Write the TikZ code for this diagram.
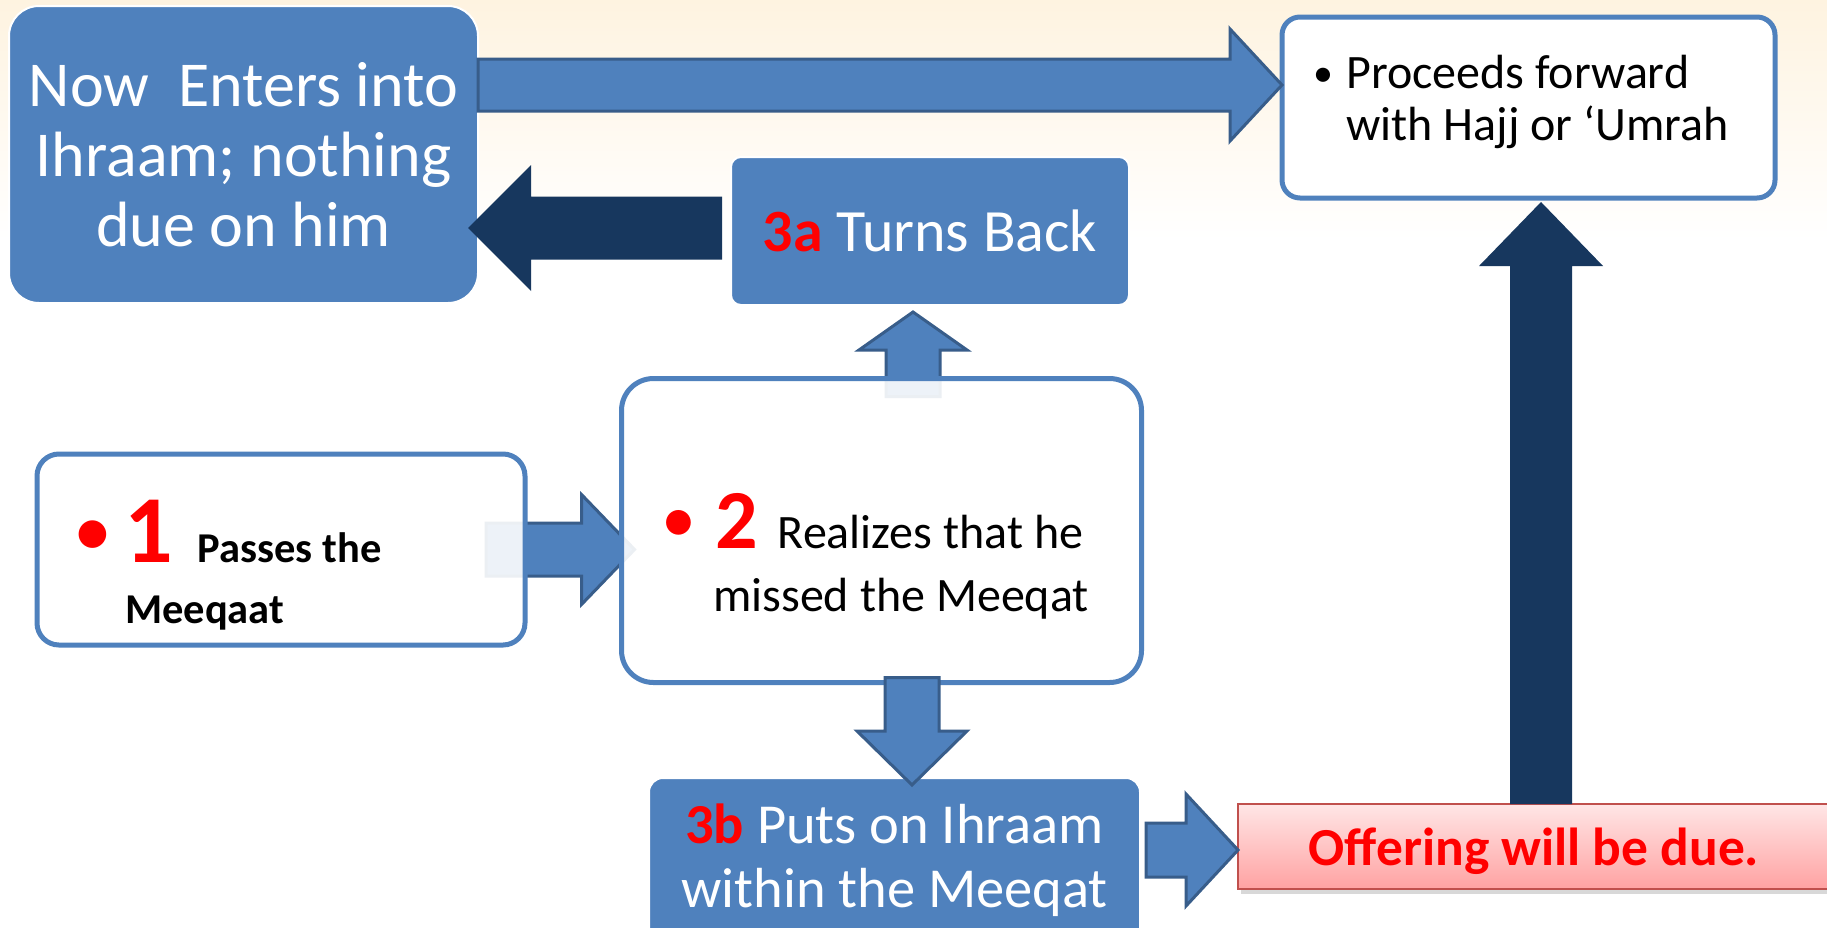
\documentclass[tikz,border=0pt]{standalone}
\usepackage{fontspec}
\setmainfont{Carlito}
\usepackage{xcolor}
\definecolor{boxblue}{RGB}{79,129,189}
\definecolor{edgeblue}{RGB}{56,93,138}
\definecolor{navy}{RGB}{23,55,94}
\definecolor{offedge}{RGB}{192,80,77}
\definecolor{offtop}{RGB}{255,230,230}
\definecolor{offbot}{RGB}{255,162,162}
\definecolor{cream}{RGB}{254,243,224}
\usetikzlibrary{calc}
\usetikzlibrary{shadows}
\pgfdeclarelayer{bg}
\pgfdeclarelayer{under}
\pgfsetlayers{bg,under,main}
\newcommand{\fsz}[2]{\fontsize{#1}{#2}\selectfont}
% style, tail, tip, half shaft, half head, head length
\newcommand{\blockarrow}[6]{%
    \path (#2) coordinate (ba-s) (#3) coordinate (ba-e);
    \path ($(ba-e)!#6!(ba-s)$) coordinate (ba-h);
    \draw[#1] ($(ba-s)!#4!90:(ba-e)$) -- ($(ba-h)!#4!-90:(ba-s)$) -- ($(ba-h)!#5!-90:(ba-s)$)
        -- (ba-e) -- ($(ba-h)!#5!90:(ba-s)$) -- ($(ba-h)!#4!90:(ba-s)$) -- ($(ba-s)!#4!-90:(ba-e)$) -- cycle;
}
\tikzset{%
    bluebox/.style={draw=white, line width=2pt, fill=boxblue, text=white, inner sep=0pt, outer sep=0pt, align=center},
    whitebox/.style={draw=boxblue, line width=5pt, fill=white, fill opacity=0.9, inner sep=0pt, outer sep=0pt},
    bluearrow/.style={fill=boxblue, draw=edgeblue, line width=3pt},
    navyarrow/.style={fill=navy, draw=none},
    linetext/.style={anchor=base west, inner sep=0pt}
}

\begin{document}
\begin{tikzpicture}[x=1pt,y=-1pt]
    \useasboundingbox (0,0) rectangle (1827,927);
    \begin{pgfonlayer}{bg}
    \shade[top color=cream, bottom color=white] (0,0) rectangle (1827,240);
    \fill[white] (0,240) rectangle (1827,927);
    \end{pgfonlayer}
%   boxes
    \node[bluebox, rounded corners=30pt, minimum width=469pt, minimum height=297pt, font=\fsz{64}{70}](A) at (243.5,154.5) {Now\ \ Enters into\\Ihraam; nothing\\due on him};
    \node[whitebox, rounded corners=18pt, minimum width=493pt, minimum height=181pt, fill opacity=1](P) at (1528.5,107.5) {};
    \node[linetext, font=\fsz{48}{52}](Pa) at (1313.5,88) {\makebox[32.5pt][l]{\fsz{40}{40}\raisebox{2pt}{•}}Proceeds forward};
    \node[linetext, font=\fsz{48}{52}](Pb) at (1346,140) {with Hajj or ‘Umrah};
    \node[bluebox, rounded corners=10pt, minimum width=398pt, minimum height=148pt, font=\fsz{60}{64}](B3a) at (930,231) {\textcolor{red}{\bfseries 3a} Turns Back};
    \node[whitebox, rounded corners=22pt, minimum width=488pt, minimum height=191pt](B1) at (281,549.5) {};
    \node[linetext](B1a) at (73.7,562) {\textcolor{red}{\makebox[50.3pt][l]{\fsz{78}{78}\raisebox{6pt}{•}}\fsz{96}{96}\bfseries 1}\hspace{25pt}{\fsz{42.5}{48}\bfseries Passes the}};
    \node[linetext, font=\fsz{42.5}{48}\bfseries](B1b) at (125,623) {Meeqaat};
    \node[whitebox, rounded corners=32pt, minimum width=520pt, minimum height=304pt](B2) at (881.5,530.5) {};
    \node[linetext](B2a) at (661,548) {\textcolor{red}{\makebox[54pt][l]{\fsz{70}{70}\raisebox{6pt}{•}}\fsz{84}{84}\bfseries 2}\hspace{20pt}{\fsz{48}{56}Realizes that he}};
    \node[linetext, font=\fsz{48}{56}](B2b) at (713,611) {missed the Meeqat};
    \node[bluebox, rounded corners=14pt, minimum width=491pt, minimum height=164pt, font=\fsz{56.5}{64}](B3b) at (894.5,860) {\textcolor{red}{\bfseries 3b} Puts on Ihraam\\within the Meeqat};
    \node[draw=offedge, line width=2pt, top color=offtop, bottom color=offbot, minimum width=592pt, minimum height=85pt, inner sep=0pt, outer sep=0pt,
        text height=50pt, text depth=12pt, font=\fsz{53.5}{60}\bfseries, text=red, drop shadow={shadow xshift=3pt, shadow yshift=-5pt, opacity=0.3}](Off) at (1534,846.5) {Offering will be due.};
%   arrows
    \coordinate (toprow) at (0,85);
    \coordinate (midcol) at (913,0);
    \coordinate (offrow) at (0,850);
    \coordinate (rightcol) at (1541,0);
    \blockarrow{bluearrow}{A.east |- toprow}{P.west |- toprow}{26pt}{56pt}{52pt}
    \blockarrow{navyarrow}{$(B3a.west)+(-9,-3)$}{$(A.east |- B3a.west)+(-10,-3)$}{31.5pt}{63pt}{63pt}
    \begin{pgfonlayer}{under}
    \blockarrow{bluearrow}{$(B2.north -| midcol)+(0,18)$}{$(B3a.south -| midcol)+(0,7)$}{27pt}{54pt}{38pt}
    \blockarrow{bluearrow}{$(B1.east)+(-39,0)$}{$(B2.west |- B1.east)+(13,0)$}{26.5pt}{55pt}{53pt}
    \end{pgfonlayer}
    \blockarrow{bluearrow}{$(B2.south -| midcol)+(-1,-5)$}{$(B3b.north -| midcol)+(-1,7)$}{27pt}{55pt}{54pt}
    \blockarrow{bluearrow}{$(B3b.east |- offrow)+(6,0)$}{Off.west |- offrow}{27pt}{56pt}{52pt}
    \blockarrow{navyarrow}{Off.north -| rightcol}{$(P.south -| rightcol)+(0,4)$}{31pt}{62pt}{64pt}
\end{tikzpicture}
\end{document}
